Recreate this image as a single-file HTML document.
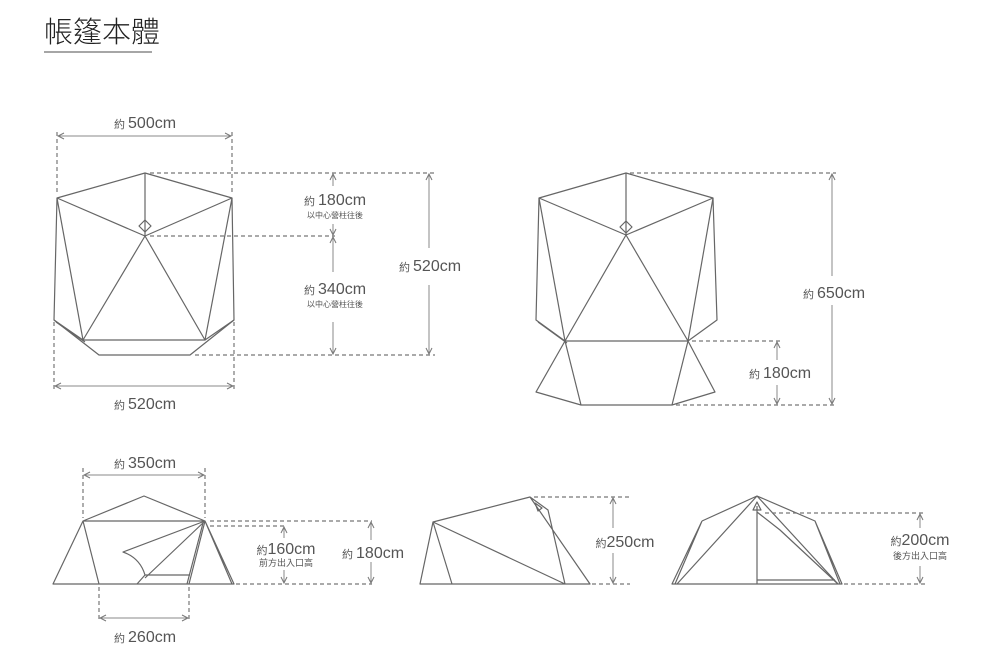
<!DOCTYPE html>
<html><head><meta charset="utf-8"><style>
html,body{margin:0;padding:0;background:#fff;}
svg{display:block;}
text{font-family:"Liberation Sans","Noto Sans CJK TC",sans-serif;fill:#555;}
.l{stroke:#666;stroke-width:1.2;fill:none;stroke-linejoin:round;}
.d{stroke:#777;stroke-width:1.2;fill:none;stroke-dasharray:4,3;}
.a{stroke:#888;stroke-width:1;fill:none;}
.t{font-size:16px;text-anchor:middle;}
.s{font-size:8px;text-anchor:middle;}
</style></head><body>
<svg width="1000" height="667" viewBox="0 0 1000 667">
<defs><marker id="ar" markerWidth="8" markerHeight="8" refX="7" refY="4" orient="auto-start-reverse" markerUnits="userSpaceOnUse"><path d="M1,1 L7,4 L1,7" stroke="#777" fill="none" stroke-width="1"/></marker></defs>
<text x="44" y="42" style="font-size:29px;fill:#222;font-family:'Noto Sans CJK TC',sans-serif;font-weight:300;">帳篷本體</text>
<line x1="44" y1="52" x2="152" y2="52" stroke="#888" stroke-width="1.5"/>

<!-- Diagram 1 -->
<g>
<path class="l" d="M57,198 L145,173 L232,198 L234,320 L190,355 L99,355 L54,320 Z"/>
<path class="l" d="M145,173 L145,236 M57,198 L145,236 L232,198 M57,198 L83,340 L205,340 L232,198 M145,236 L83,340 M145,236 L205,340 M54,320 L83,340 M234,320 L205,340 M56,322 L85,342"/>
<path class="l" d="M145,220 L151,226 L145,232 L139,226 Z"/>
<path class="d" d="M57,132 V192 M232,132 V192 M54,322 V392 M234,322 V392 M150,173 H435 M150,236 H335 M195,355 H435"/>
<line class="a" x1="58" y1="136" x2="231" y2="136" marker-start="url(#ar)" marker-end="url(#ar)"/>
<line class="a" x1="55" y1="386" x2="233" y2="386" marker-start="url(#ar)" marker-end="url(#ar)"/>
<line class="a" x1="333" y1="174" x2="333" y2="186" marker-start="url(#ar)"/>
<line class="a" x1="333" y1="224" x2="333" y2="235" marker-end="url(#ar)"/>
<line class="a" x1="333" y1="237" x2="333" y2="272" marker-start="url(#ar)"/>
<line class="a" x1="333" y1="322" x2="333" y2="354" marker-end="url(#ar)"/>
<line class="a" x1="429" y1="174" x2="429" y2="248" marker-start="url(#ar)"/>
<line class="a" x1="429" y1="285" x2="429" y2="354" marker-end="url(#ar)"/>
<text class="t" x="145" y="128"><tspan style="font-size:11px">約 </tspan>500cm</text>
<text class="t" x="145" y="409"><tspan style="font-size:11px">約 </tspan>520cm</text>
<text class="t" x="335" y="205"><tspan style="font-size:11px">約 </tspan>180cm</text>
<text class="s" x="335" y="218">以中心營柱往後</text>
<text class="t" x="335" y="294"><tspan style="font-size:11px">約 </tspan>340cm</text>
<text class="s" x="335" y="307">以中心營柱往後</text>
<text class="t" x="430" y="271"><tspan style="font-size:11px">約 </tspan>520cm</text>
</g>

<!-- Diagram 2 -->
<g>
<path class="l" d="M539,198 L626,173 L713,198 L717,320 L688,341 L565,341 L536,320 Z"/>
<path class="l" d="M626,173 L626,235 M539,198 L626,235 L713,198 M539,198 L565,341 M713,198 L688,341 M626,235 L565,341 M626,235 L688,341 M538,322 L567,343"/>
<path class="l" d="M626,221 L632,227 L626,233 L620,227 Z"/>
<path class="l" d="M565,341 L536,392 L581,405 L672,405 L715,392 L688,341 M565,341 L581,405 M688,341 L672,405"/>
<path class="d" d="M630,173 H836 M692,341 H780 M676,405 H836"/>
<line class="a" x1="832" y1="174" x2="832" y2="276" marker-start="url(#ar)"/>
<line class="a" x1="832" y1="305" x2="832" y2="404" marker-end="url(#ar)"/>
<line class="a" x1="777" y1="342" x2="777" y2="360" marker-start="url(#ar)"/>
<line class="a" x1="777" y1="385" x2="777" y2="404" marker-end="url(#ar)"/>
<text class="t" x="834" y="298"><tspan style="font-size:11px">約 </tspan>650cm</text>
<text class="t" x="780" y="378"><tspan style="font-size:11px">約 </tspan>180cm</text>
</g>

<!-- Diagram 3 -->
<g>
<path class="l" d="M83,521 L144,496 L205,521 Z M83,521 L53,584 L234,584 L205,521 M83,521 L99,584 M205,521 L189,584 M203,523 L187,584 M205,521 L232,584"/>
<path class="l" d="M205,521 L123,552 Q140,558 145,575 L137,584 M205,521 L145,578 M145,575 L190,575"/>
<path class="d" d="M83,468 V518 M205,468 V518 M99,587 V622 M189,587 V622 M210,521 H372 M210,526 H285 M236,584 H372"/>
<line class="a" x1="84" y1="475" x2="204" y2="475" marker-start="url(#ar)" marker-end="url(#ar)"/>
<line class="a" x1="100" y1="618" x2="188" y2="618" marker-start="url(#ar)" marker-end="url(#ar)"/>
<line class="a" x1="284" y1="527" x2="284" y2="538" marker-start="url(#ar)"/>
<line class="a" x1="284" y1="570" x2="284" y2="583" marker-end="url(#ar)"/>
<line class="a" x1="371" y1="522" x2="371" y2="540" marker-start="url(#ar)"/>
<line class="a" x1="371" y1="562" x2="371" y2="583" marker-end="url(#ar)"/>
<text class="t" x="145" y="468"><tspan style="font-size:11px">約 </tspan>350cm</text>
<text class="t" x="145" y="642"><tspan style="font-size:11px">約 </tspan>260cm</text>
<text class="t" x="286" y="554"><tspan style="font-size:11px">約</tspan>160cm</text>
<text class="s" x="286" y="566" style="font-size:9px">前方出入口高</text>
<text class="t" x="373" y="558"><tspan style="font-size:11px">約 </tspan>180cm</text>
</g>

<!-- Diagram 4 -->
<g>
<path class="l" d="M433,522 L530,497 L590,584 L420,584 Z M433,522 L452,584 M433,522 L565,584 M530,497 L548,510 L565,584"/>
<path class="l" d="M535,503 L542,508 L538,511 Z"/>
<path class="d" d="M534,497 H630 M592,584 H630"/>
<line class="a" x1="613" y1="498" x2="613" y2="528" marker-start="url(#ar)"/>
<line class="a" x1="613" y1="553" x2="613" y2="583" marker-end="url(#ar)"/>
<text class="t" x="625" y="547"><tspan style="font-size:11px">約</tspan>250cm</text>
</g>

<!-- Diagram 5 -->
<g>
<path class="l" d="M702,521 L757,496 L815,521 L842,584 L672,584 L702,521 M757,496 L677,584 M757,496 L838,584 M702,521 L675,584 M815,521 L840,584"/>
<path class="l" d="M757,506 L757,584 M757,512 L780,530 L838,584 M757,580 L835,580 M753,510 L757,502 L761,510 Z"/>
<path class="d" d="M765,513 H925 M844,584 H925"/>
<line class="a" x1="920" y1="514" x2="920" y2="528" marker-start="url(#ar)"/>
<line class="a" x1="920" y1="566" x2="920" y2="583" marker-end="url(#ar)"/>
<text class="t" x="920" y="545"><tspan style="font-size:11px">約</tspan>200cm</text>
<text class="s" x="920" y="559" style="font-size:9px">後方出入口高</text>
</g>
</svg>
</body></html>
